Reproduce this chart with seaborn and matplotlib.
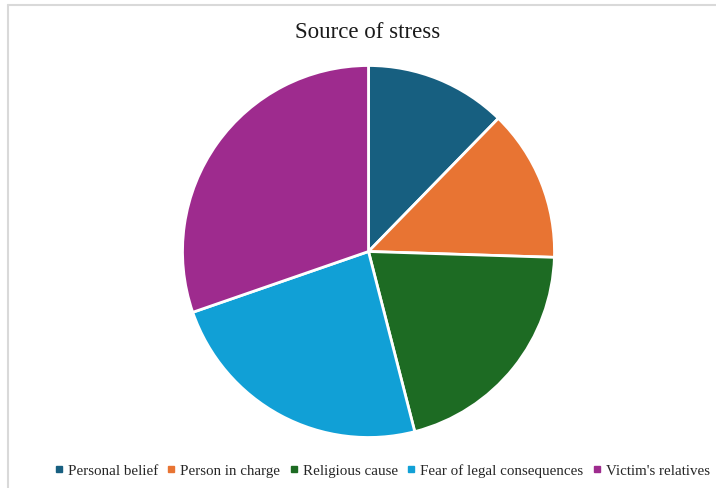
import matplotlib
matplotlib.use("Agg")
import matplotlib.pyplot as plt
from matplotlib.lines import Line2D
import seaborn as sns

categories = ["Personal belief", "Person in charge", "Religious cause",
              "Fear of legal consequences", "Victim's relatives"]
values = [12.3, 13.2, 20.5, 23.7, 30.3]
colors = ["#175F80", "#E87433", "#1D6B23", "#11A0D6", "#9E2B8E"]

sns.set_theme(style="white")
plt.rcParams["font.family"] = ["Liberation Serif", "DejaVu Serif"]

W, H = 716, 489
fig = plt.figure(figsize=(W / 100, H / 100), dpi=100)
fig.patch.set_facecolor("white")

# chart border (gray, top and left visible)
fig.add_artist(Line2D([8 / W, 1], [1 - 5.5 / H, 1 - 5.5 / H], transform=fig.transFigure,
                      color="#D9D9D9", lw=1.5))
fig.add_artist(Line2D([8 / W, 8 / W], [0, 1 - 5.5 / H], transform=fig.transFigure,
                      color="#D9D9D9", lw=1.5))

cx, cy, r = 368.5, 252.5, 186
ax = fig.add_axes([(cx - r) / W, (H - cy - r) / H, 2 * r / W, 2 * r / H])
palette = sns.color_palette(colors)
wedges, _ = ax.pie(values, colors=palette, startangle=90, counterclock=False,
                   radius=1, wedgeprops=dict(edgecolor="white", linewidth=2))
ax.set_xlim(-1.0, 1.0)
ax.set_ylim(-1.0, 1.0)
ax.set_aspect("equal")
ax.axis("off")

fig.text(368 / W, 1 - 33 / H, "Source of stress", ha="center", va="center",
         fontsize=16.5, color="#1a1a1a")

handles = [Line2D([], [], marker="s", linestyle="", markersize=4.5,
                  markerfacecolor=c, markeredgecolor=c) for c in palette]
fig.legend(handles, categories, loc="center", bbox_to_anchor=(382 / W, 1 - 471 / H),
           ncol=5, frameon=False, fontsize=10.8, handlelength=0.6, handletextpad=0.3,
           columnspacing=0.6, labelcolor="#262626")

fig.savefig("out.png", dpi=100, facecolor="white")
